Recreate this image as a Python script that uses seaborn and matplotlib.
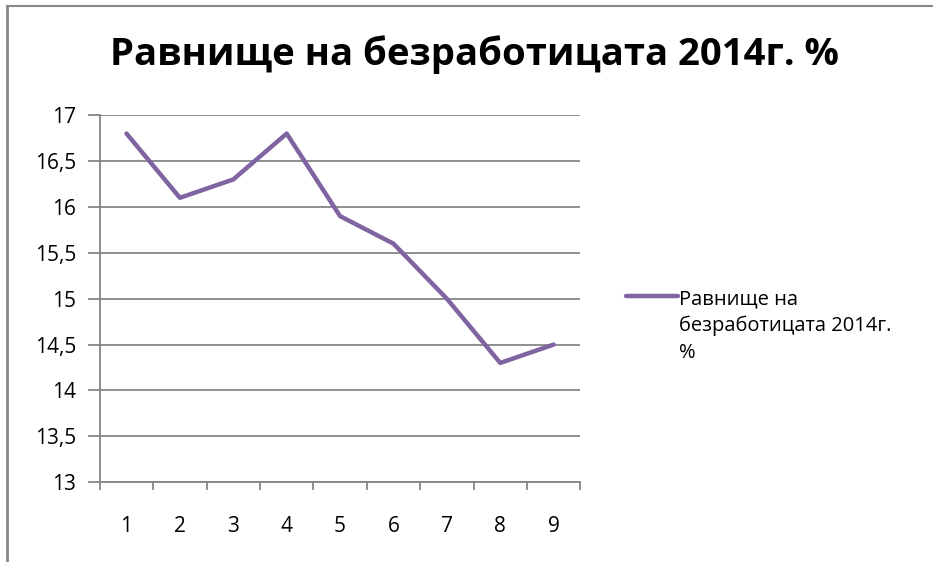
import matplotlib
matplotlib.use("Agg")
import matplotlib.pyplot as plt
import seaborn as sns
import pandas as pd
from matplotlib.lines import Line2D
from matplotlib.ticker import FuncFormatter

sns.set_theme(style="white")
plt.rcParams['font.family'] = ['Open Sans', 'DejaVu Sans']
plt.rcParams['text.color'] = 'black'

# data
months = [1, 2, 3, 4, 5, 6, 7, 8, 9]
rate = [16.8, 16.1, 16.3, 16.8, 15.9, 15.6, 15.0, 14.3, 14.5]
series_name = "Равнище на безработицата 2014г. %"
legend_label = "Равнище на\nбезработицата 2014г.\n%"

df = pd.DataFrame({"month": months, "rate": rate})

grey = "#868686"
purple = "#8064A2"

fig = plt.figure(figsize=(9.33, 5.62), dpi=100)
ax = fig.add_axes([0.107, 0.142, 0.515, 0.653])

sns.lineplot(data=df, x="month", y="rate", color=purple, linewidth=3.2, ax=ax)

ax.set_xlim(0.5, 9.5)
ax.set_ylim(13, 17)
ax.set_yticks([13, 13.5, 14, 14.5, 15, 15.5, 16, 16.5, 17])
ax.yaxis.set_major_formatter(FuncFormatter(lambda v, p: f"{v:g}".replace(".", ",")))
ax.set_xticks(months)
ax.set_xticks([m + 0.5 for m in [0] + months], minor=True)
ax.set_xlabel("")
ax.set_ylabel("")

ax.grid(axis="y", color=grey, linewidth=1.3)
ax.grid(axis="x", visible=False)
for side in ["top", "right"]:
    ax.spines[side].set_visible(False)
for side in ["left", "bottom"]:
    ax.spines[side].set_color(grey)
    ax.spines[side].set_linewidth(1.3)

ax.tick_params(axis="y", which="major", left=True, length=9, width=1.3, color=grey,
               labelsize=15, pad=8, labelcolor="black")
ax.tick_params(axis="x", which="major", bottom=False, labelsize=15, pad=18, labelcolor="black")
ax.tick_params(axis="x", which="minor", bottom=True, length=6, width=1.3, color=grey)

fig.suptitle(series_name, fontsize=27.5, fontweight="bold", x=0.508, y=0.937, color="black")

handle = Line2D([0], [0], color=purple, linewidth=3.2)
leg = fig.legend([handle], [legend_label], loc="upper left", bbox_to_anchor=(0.662, 0.5),
                 frameon=False, fontsize=14.5, handlelength=2.6, handletextpad=0.05,
                 borderaxespad=0)
for t in leg.get_texts():
    t.set_linespacing(1.45)
# put the line next to the first text row, as in the original
for col in leg._legend_handle_box.get_children():
    for item in col.get_children():
        item.align = "top"

# chart-area border (top and left edges visible)
fig.add_artist(Line2D([0.008, 0.008], [0, 0.99], color="#888888", linewidth=2,
                      transform=fig.transFigure))
fig.add_artist(Line2D([0.008, 1.0], [0.99, 0.99], color="#888888", linewidth=1.5,
                      transform=fig.transFigure))

fig.savefig("out.png", dpi=100, facecolor="white")
